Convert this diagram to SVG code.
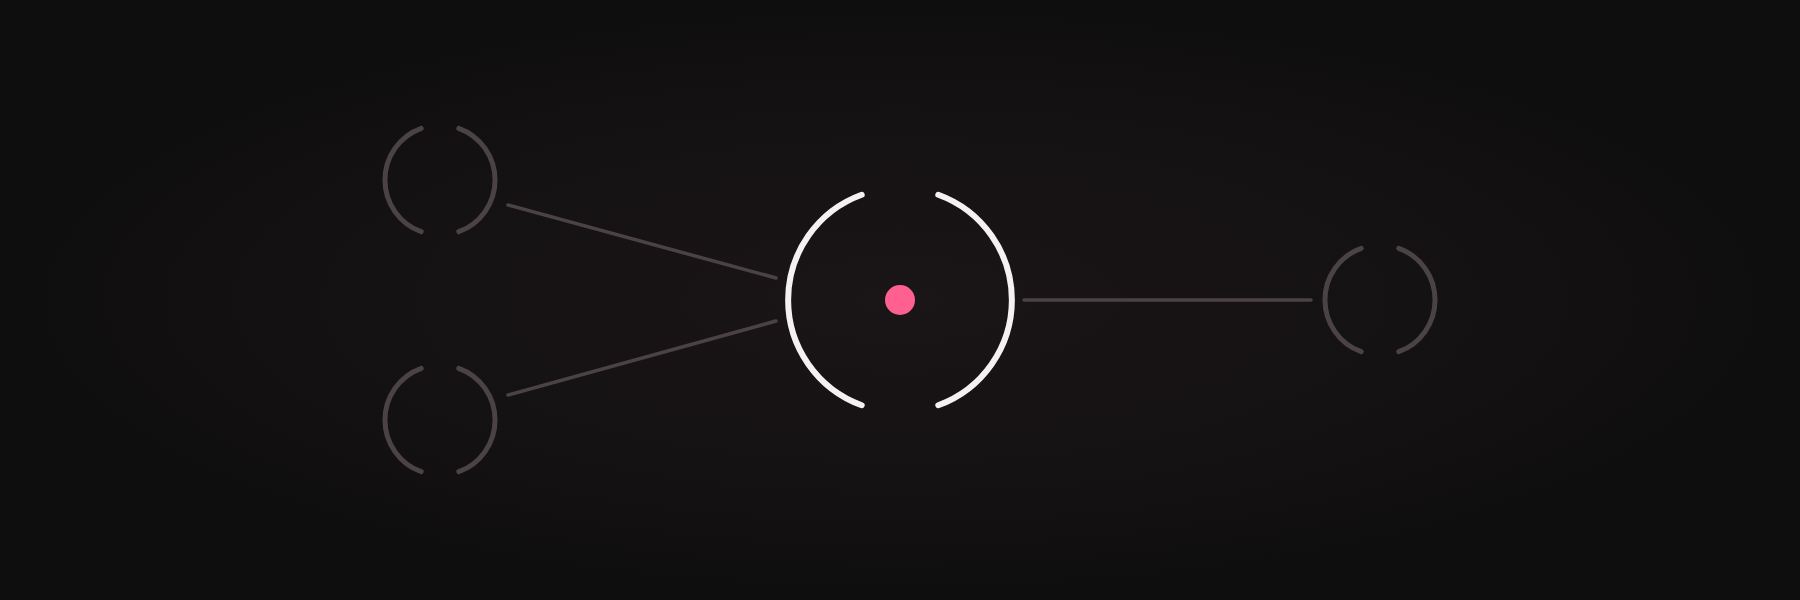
<svg xmlns="http://www.w3.org/2000/svg" width="1800" height="600" viewBox="0 0 1800 600">
  <defs>
    <radialGradient id="bg" cx="50%" cy="50%" r="50%" fx="50%" fy="50%">
      <stop offset="0" stop-color="#1a1517"/>
      <stop offset="0.55" stop-color="#151213"/>
      <stop offset="1" stop-color="#0f0e0f"/>
    </radialGradient>
    <style>
      .edge { stroke: #4b4246; stroke-width: 3.5; stroke-linecap: round; fill: none; }
      .ring { stroke: #4b4246; stroke-width: 5; stroke-linecap: round; fill: none; }
      .hub { stroke: #f4f1f2; stroke-width: 6; stroke-linecap: round; fill: none; }
      .dot { fill: #ff6090; }
    </style>
  </defs>
  <rect width="1800" height="600" fill="#0f0e0f"/>
  <rect width="1800" height="600" fill="url(#bg)"/>
  <g id="connectors">
    <line class="edge" x1="508" y1="205" x2="776" y2="278"/>
    <line class="edge" x1="508" y1="395" x2="776" y2="321"/>
    <line class="edge" x1="1024" y1="300" x2="1311" y2="300"/>
  </g>
  <g id="node-top-left">
    <path class="ring" d="M421.2,128.3 A55,55 0 0 0 421.2,231.7"/>
    <path class="ring" d="M458.8,128.3 A55,55 0 0 1 458.8,231.7"/>
  </g>
  <g id="node-bottom-left">
    <path class="ring" d="M421.2,368.3 A55,55 0 0 0 421.2,471.7"/>
    <path class="ring" d="M458.8,368.3 A55,55 0 0 1 458.8,471.7"/>
  </g>
  <g id="node-right">
    <path class="ring" d="M1361.2,248.3 A55,55 0 0 0 1361.2,351.7"/>
    <path class="ring" d="M1398.8,248.3 A55,55 0 0 1 1398.8,351.7"/>
  </g>
  <g id="node-center">
    <path class="hub" d="M861.7,194.8 A112,112 0 0 0 861.7,405.2"/>
    <path class="hub" d="M938.3,194.8 A112,112 0 0 1 938.3,405.2"/>
    <circle class="dot" cx="900" cy="300" r="15"/>
  </g>
</svg>
